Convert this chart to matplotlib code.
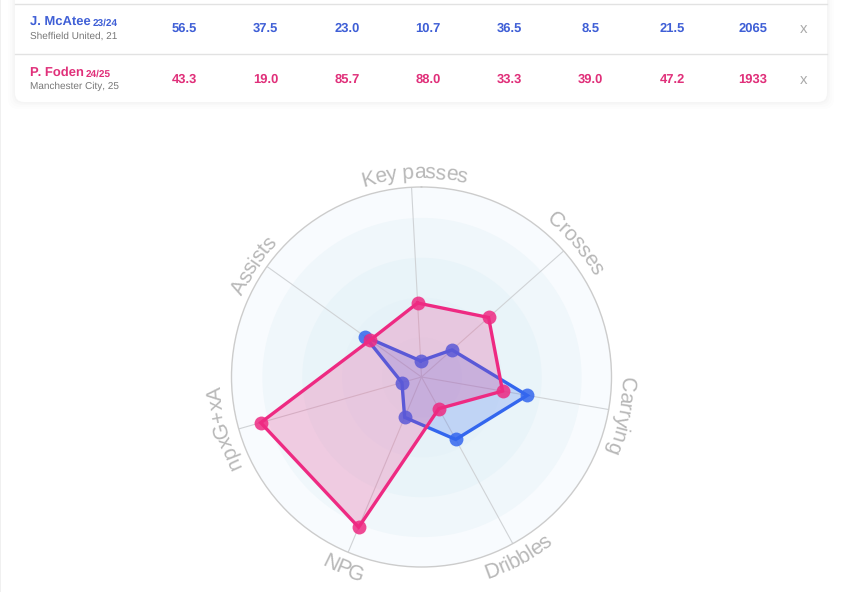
import numpy as np
import matplotlib
matplotlib.use("Agg")
import matplotlib.pyplot as plt
from matplotlib.patches import FancyBboxPatch, Rectangle
from matplotlib.textpath import TextPath
from matplotlib.font_manager import FontProperties

axis_labels = ["Key passes", "Crosses", "Carrying", "Dribbles", "NPG", "npxG+xA", "Assists"]
mcatee_values = [8.5, 21.5, 56.5, 37.5, 23.0, 10.7, 36.5]
foden_values = [39.0, 47.2, 43.3, 19.0, 85.7, 88.0, 33.3]
mcatee_row = ["56.5", "37.5", "23.0", "10.7", "36.5", "8.5", "21.5", "2065"]
foden_row = ["43.3", "19.0", "85.7", "88.0", "33.3", "39.0", "47.2", "1933"]
ring_levels = [100, 84, 63, 42, 21]
ring_colors = ["#f8fbfe", "#f0f7fb", "#e9f4f9", "#e6f2f8", "#e3f0f7"]

BLUE, PINK = "#3366ee", "#ee2a82"
BLUE_T, PINK_T = "#3f5fd6", "#e0307a"
W, H = 841, 592
plt.rcParams["font.family"] = ["Liberation Sans", "DejaVu Sans"]
plt.rcParams["text.hinting"] = "no_hinting"
plt.rcParams["text.hinting_factor"] = 1

fig = plt.figure(figsize=(W / 100, H / 100), dpi=100, facecolor="white")

bg = fig.add_axes([0, 0, 1, 1], zorder=0)
bg.set_xlim(0, W)
bg.set_ylim(H, 0)
bg.axis("off")
bg.add_patch(Rectangle((0, 0), 1.2, H, fc="#f0f0f0", ec="none"))
for grow, alpha in zip([7, 5, 3, 1.5], [0.006, 0.008, 0.010, 0.012]):
    bg.add_patch(FancyBboxPatch((15 - grow, -20 - grow + 2), 812 + 2 * grow, 120 + 2 * grow,
                                boxstyle="round,pad=0,rounding_size=10", fc="black", ec="none", alpha=alpha))
bg.add_patch(FancyBboxPatch((15, -20), 812, 122, boxstyle="round,pad=0,rounding_size=9",
                            fc="white", ec="none"))
bg.plot([15, 827], [3.5, 3.5], color="#e2e2e2", lw=1)
bg.plot([15, 827], [53.5, 53.5], color="#e2e2e2", lw=1)

col_x = [184, 265.5, 347, 428, 509.5, 590.5, 672, 753]
rows = [("J. McAtee", "23/24", "Sheffield United, 21", mcatee_row, BLUE_T, 28.5, 22.5, 36, 93),
        ("P. Foden", "24/25", "Manchester City, 25", foden_row, PINK_T, 79.5, 73, 86, 86)]
for name, season, club, vals, col, y, yn, ys, xs in rows:
    bg.text(30, yn, name, color=col, fontsize=9.4, fontweight="bold", va="center", ha="left")
    bg.text(xs, yn + 1, season, color=col, fontsize=7.2, fontweight="bold", va="center", ha="left")
    bg.text(30, ys, club, color="#777777", fontsize=7, va="center", ha="left")
    for x, v in zip(col_x, vals):
        bg.text(x, y, v, color=col, fontsize=9, fontweight="bold", va="center", ha="center")
    bg.text(804, y + 0.5, "x", color="#aaaaaa", fontsize=11, va="center", ha="center")

cx, cy, R = 421.5, 377, 190
ax = fig.add_axes([(cx - R) / W, (H - cy - R) / H, 2 * R / W, 2 * R / H], projection="polar", zorder=1)
ax.patch.set_alpha(0)
ax.set_theta_zero_location("N")
ax.set_theta_direction(-1)
ax.set_ylim(0, 100)
ax.set_xticks([])
ax.set_yticks([])
ax.grid(False)
ax.spines["polar"].set_edgecolor("#cccccc")
ax.spines["polar"].set_linewidth(1)

START = -3.0
n = len(axis_labels)
angles_deg = START + np.arange(n) * 360 / n
angles = np.deg2rad(angles_deg)

circle = np.linspace(0, 2 * np.pi, 361)
for lvl, c in zip(ring_levels, ring_colors):
    ax.fill_between(circle, 0, lvl, color=c, lw=0, zorder=1)
for a in angles:
    ax.plot([a, a], [0, 100], color="#d0d3d6", lw=0.8, zorder=2)

for vals, col in ((mcatee_values, BLUE), (foden_values, PINK)):
    th = np.r_[angles, angles[0]]
    rr = np.r_[vals, vals[0]]
    ax.fill(th, rr, color=col, alpha=0.21, lw=0, zorder=3)
    ax.plot(th, rr, color=col, lw=2.4, zorder=3, solid_joinstyle="miter")
    ax.plot(angles, vals, ls="none", marker="o", ms=10, mfc=col, mec="none", alpha=0.85, zorder=3)

fp = FontProperties(family="Liberation Sans", size=15)
px_per_unit = 100 / 72
label_shift = [1.0, 0.6, 1.0, 0.5, -0.5, 1.5, -2.0]
label_radius = [199, 200, 199, 212, 213, 201, 197]
letter_spacing = 0.96


def widths(s):
    base = TextPath((0, 0), "|", prop=fp).get_extents().x1
    return [(TextPath((0, 0), s[:i] + "|", prop=fp).get_extents().x1 - base) * px_per_unit * letter_spacing
            for i in range(len(s) + 1)]


for lab, deg, sh, r_px in zip(axis_labels, angles_deg, label_shift, label_radius):
    d = deg % 360 + sh
    inward = 125 < d < 235
    pos = widths(lab)
    total = pos[-1]
    for i, ch in enumerate(lab):
        if ch == " ":
            continue
        mid = (pos[i] + pos[i + 1]) / 2 - total / 2
        dth = np.rad2deg(mid / r_px)
        a = d - dth if inward else d + dth
        rot = (180 - a) if inward else -a
        ax.text(np.deg2rad(a), r_px / R * 100, ch, fontproperties=fp, color="#b8b8b8",
                rotation=rot, rotation_mode="anchor", ha="center", va="baseline",
                clip_on=False, zorder=5)

fig.savefig("out.png", dpi=100, facecolor="white")
